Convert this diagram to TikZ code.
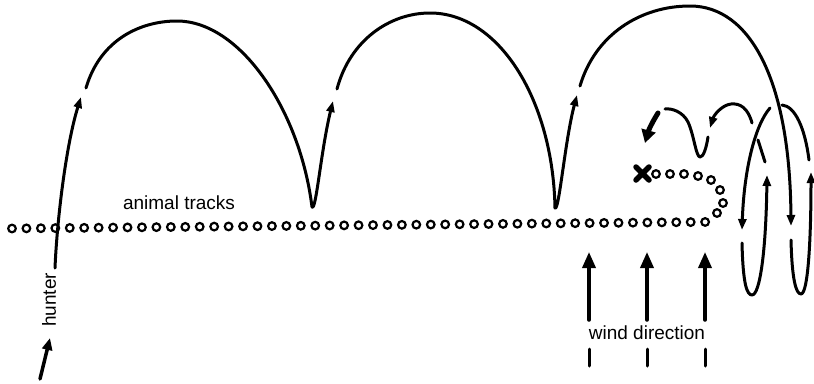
\documentclass[tikz,border=0pt]{standalone}
\usepackage{fontspec}
\setmainfont{Liberation Sans}
\usetikzlibrary{arrows.meta}

\tikzset{
  salto/.style={line width=3pt, line join=round, -{Triangle[length=11pt,width=8pt]}},
  pegada/.style={line width=2.2pt},
  vento/.style={line width=3.5pt, -{Triangle[length=16pt,width=13pt]}},
  rotulo/.style={inner sep=0pt, font=\fontsize{19}{22}\selectfont}
}

\begin{document}
\begin{tikzpicture}[x=1pt, y=-1pt, line cap=round]

\useasboundingbox (0,0) rectangle (814,383);

% Pegadas do animal
\foreach \i in {0,...,48}
  \draw[pegada] ({12+14.44*\i},{228.5-0.136*\i}) circle (3.8pt);
\foreach \p in {(717,213),(723,203),(720,190),(711,180),(698,176),(684,174),(670,174),(656,174)}
  \draw[pegada] \p circle (3.8pt);

% Animal
\draw[line width=5.5pt] (636,167) -- (649,180) (636,180) -- (649,167);

% Rotulos
\node[rotulo] (trilha) at (179,203) {animal tracks};
\node[rotulo] (vento) at (647,333) {wind direction};
\node[rotulo, rotate=90] (cacador) at (49,300) {hunter};

% Cacador: entrada
\draw[line width=3.5pt, -{Triangle[length=12pt,width=10pt]}] (40,379) -- (50,338);
\draw[salto] (55,268) .. controls (57,220) and (66,145) .. (81,97);

% Primeiro salto
\draw[salto] (86,88) .. controls (100,40) and (140,21) .. (177,21)
  .. controls (240,21) and (300,110) .. (312,207)
  .. controls (316,212) and (321,150) .. (333,101);

% Segundo salto
\draw[salto] (337,89) .. controls (350,40) and (390,13) .. (430,13)
  .. controls (499,13) and (553,100) .. (555,208)
  .. controls (559,212) and (565,140) .. (577,95);

% Terceiro salto
\draw[salto] (580,86) .. controls (595,35) and (640,6) .. (690,6)
  .. controls (750,6) and (790,80) .. (791,226);

% Voltas
\draw[salto] (791,240) .. controls (792,280) and (796,294) .. (801,294)
  .. controls (808,294) and (811,240) .. (811,172);
\draw[salto] (809,160) .. controls (805,128) and (795,106) .. (782,105)
  (770,108) .. controls (755,125) and (744,170) .. (742,230);
\draw[salto] (742,243) .. controls (743,285) and (747,295) .. (752,295)
  .. controls (760,295) and (766,250) .. (767,175);
\draw[line width=3pt] (765,162) -- (758,140);

% Pulos pequenos
\draw[salto] (752,123) .. controls (748,108) and (740,103) .. (731,104)
  .. controls (722,105) and (714,115) .. (710,128);
\draw[line width=3pt, line join=round] (708,137) .. controls (706,150) and (703,157) .. (700,157)
  .. controls (696,157) and (694,135) .. (688,122)
  .. controls (683,112) and (672,108) .. (665,109);
\draw[line width=5pt, -{Triangle[length=13pt,width=14pt]}] (658,113) .. controls (653,121) and (649,129) .. (645,143);

% Vento
\foreach \x in {589,647,705} {
  \draw[vento] (\x,320) -- (\x,252);
  \draw[line width=3pt] (\x,349) -- (\x,366);
}

\end{tikzpicture}
\end{document}
